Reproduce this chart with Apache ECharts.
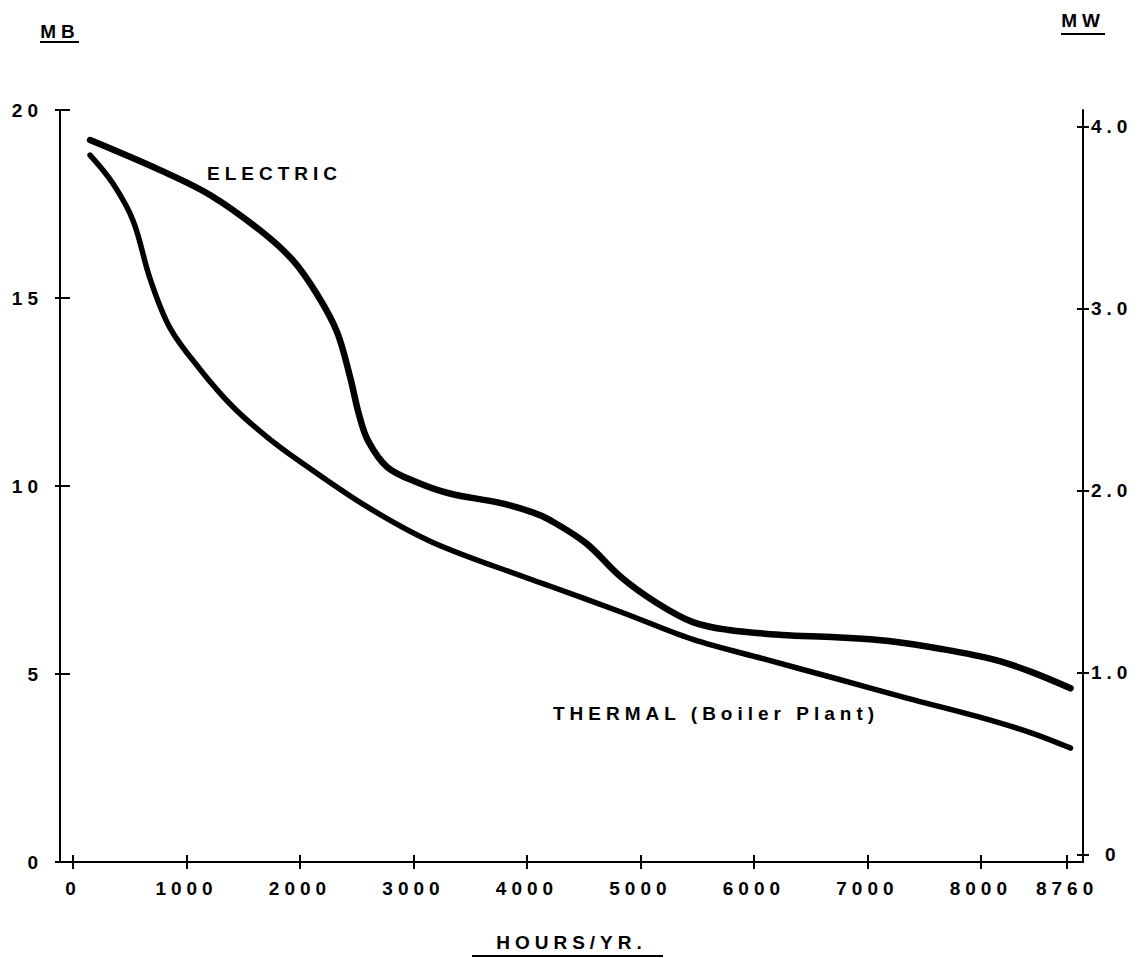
<!DOCTYPE html>
<html><head><meta charset="utf-8">
<script src="https://cdn.jsdelivr.net/npm/echarts@6/dist/echarts.min.js"></script>
<style>
html,body{margin:0;padding:0;background:#fff}
#c{width:1144px;height:958px}
#c svg text{letter-spacing:5px}
</style>
</head><body><div id="c"></div>
<script>
// Electric load-duration curve (MB)
const electricHours = [150, 767, 1207, 1648, 1938, 2150, 2326, 2441, 2520, 2600, 2770, 3030, 3320, 3760, 4050, 4200, 4520, 4828, 5145, 5462, 5780, 6247, 6722, 7189, 7665, 8132, 8449, 8790];
const electricMB =    [19.2, 18.4, 17.74, 16.8, 16.0, 15.1, 14.1, 12.9, 11.9, 11.2, 10.5, 10.1, 9.8, 9.55, 9.3, 9.1, 8.48, 7.58, 6.89, 6.38, 6.17, 6.04, 5.98, 5.88, 5.66, 5.37, 5.05, 4.62];
// Thermal (Boiler Plant) load-duration curve (MB)
const thermalHours = [150, 350, 530, 680, 855, 1120, 1410, 1710, 2000, 2590, 3170, 4050, 4200, 4828, 5462, 6088, 6722, 7348, 7982, 8449, 8790];
const thermalMB =    [18.8, 18.05, 17.05, 15.5, 14.2, 13.1, 12.1, 11.3, 10.65, 9.45, 8.5, 7.5, 7.34, 6.65, 5.92, 5.4, 4.88, 4.36, 3.86, 3.43, 3.03];
// Tick labels
const xTickValues = [0, 1000, 2000, 3000, 4000, 5000, 6000, 7000, 8000, 8760];
const leftTickValues = [0, 5, 10, 15, 20];
const rightTickValues = [0, 1, 2, 3, 4];

const FONT = 'Liberation Sans, Arial, sans-serif';
const black = '#000';
const FS = 19;
const FW = 'bold';
const chart = echarts.init(document.getElementById('c'), null, {renderer: 'svg'});

const baseAxisText = {color: black, fontSize: FS, fontWeight: FW, fontFamily: FONT};
const nameText = {color: black, fontSize: FS, fontWeight: FW, fontFamily: FONT};
const X_MIN = -115, X_MAX = 8900;
const R_MIN = -0.04, R_MAX = 4.09;
const lineAxis = {show: true, onZero: false, lineStyle: {color: black, width: 2}};
const tickStyle = {color: black, width: 2};

chart.setOption({
  animation: false,
  backgroundColor: '#fff',
  grid: {left: 60, right: 61, top: 110, bottom: 96, containLabel: false},
  xAxis: [
    {
      type: 'value', min: X_MIN, max: X_MAX, position: 'bottom',
      axisLine: lineAxis,
      axisTick: {show: true, customValues: xTickValues, length: 7, lineStyle: tickStyle},
      axisLabel: Object.assign({customValues: xTickValues, margin: 17, formatter: v => String(v)}, baseAxisText),
      splitLine: {show: false},
      name: 'HOURS/YR.', nameLocation: 'middle', nameGap: 71,
      nameTextStyle: nameText
    },
    {
      type: 'value', min: X_MIN, max: X_MAX, position: 'bottom',
      axisLine: {show: false, onZero: false},
      axisTick: {show: true, inside: true, customValues: xTickValues, length: 7, lineStyle: tickStyle},
      axisLabel: {show: false},
      splitLine: {show: false}
    }
  ],
  yAxis: [
    {
      type: 'value', min: 0, max: 20, position: 'left',
      axisLine: lineAxis,
      axisTick: {show: true, customValues: leftTickValues, length: 5, lineStyle: tickStyle},
      axisLabel: Object.assign({customValues: leftTickValues, margin: 17, formatter: v => String(v)}, baseAxisText),
      splitLine: {show: false},
      name: 'MB', nameLocation: 'end', nameGap: 69,
      nameTextStyle: nameText
    },
    {
      type: 'value', min: R_MIN, max: R_MAX, position: 'right',
      axisLine: lineAxis,
      axisTick: {show: true, customValues: rightTickValues, length: 6, lineStyle: tickStyle},
      axisLabel: Object.assign({customValues: rightTickValues, margin: 8,
        formatter: v => (Math.abs(v) < 1e-9 ? '{z|0}' : v.toFixed(1)),
        rich: {z: {padding: [0, 0, 0, 14], color: black, fontSize: FS, fontWeight: FW, fontFamily: FONT}}}, baseAxisText),
      splitLine: {show: false},
      name: 'MW', nameLocation: 'end', nameGap: 80,
      nameTextStyle: nameText
    },
    {
      type: 'value', min: 0, max: 20, position: 'left',
      axisLine: {show: false, onZero: false},
      axisTick: {show: true, inside: true, customValues: leftTickValues, length: 10, lineStyle: tickStyle},
      axisLabel: {show: false}, splitLine: {show: false}
    },
    {
      type: 'value', min: R_MIN, max: R_MAX, position: 'right',
      axisLine: {show: false, onZero: false},
      axisTick: {show: true, inside: true, customValues: rightTickValues, length: 6, lineStyle: tickStyle},
      axisLabel: {show: false}, splitLine: {show: false}
    }
  ],
  series: [
    {
      name: 'ELECTRIC', type: 'line', xAxisIndex: 0, yAxisIndex: 0,
      smooth: 0.35, showSymbol: false, silent: true,
      lineStyle: {color: black, width: 6.5, cap: 'round', join: 'round'},
      data: electricHours.map((h, i) => [h, electricMB[i]])
    },
    {
      name: 'THERMAL (Boiler Plant)', type: 'line', xAxisIndex: 0, yAxisIndex: 0,
      smooth: 0.35, showSymbol: false, silent: true,
      lineStyle: {color: black, width: 5.5, cap: 'round', join: 'round'},
      data: thermalHours.map((h, i) => [h, thermalMB[i]])
    }
  ],
  graphic: [
    {type: 'text', left: 207, top: 164, style: {text: 'ELECTRIC', fill: black, fontSize: FS, fontWeight: FW, fontFamily: FONT}},
    {type: 'text', left: 553, top: 704, style: {text: 'THERMAL (Boiler Plant)', fill: black, fontSize: FS, fontWeight: FW, fontFamily: FONT}},
    {type: 'rect', shape: {x: 40, y: 41, width: 39, height: 2}, style: {fill: black}},
    {type: 'rect', shape: {x: 1061, y: 33, width: 44, height: 2}, style: {fill: black}},
    {type: 'rect', shape: {x: 472, y: 955, width: 191, height: 2}, style: {fill: black}}
  ]
});
</script>
</body></html>
